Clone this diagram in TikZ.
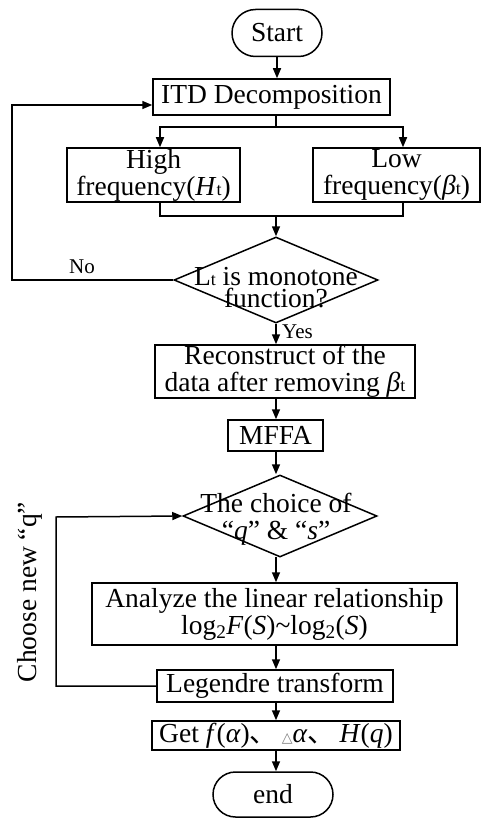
\documentclass[tikz,border=0pt]{standalone}
\usepackage{fontspec}
\setmainfont{Liberation Serif}
\newfontfamily\cjk{Noto Sans CJK SC}
\newfontfamily\djv{DejaVu Sans}
\usetikzlibrary{shapes.geometric,shapes.misc,arrows.meta}
\newcommand{\smt}{{\fontsize{18}{18}\selectfont t}}
\begin{document}
\begin{tikzpicture}[x=1pt,y=-1pt,
  font=\fontsize{27.5}{27}\selectfont,
  ln/.style={line width=1.5pt},
  arr/.style={line width=1.5pt,-{Triangle[length=10pt,width=8pt]}},
  box/.style={draw,line width=1.5pt,inner sep=0pt,align=center},
  stadium/.style={draw,line width=1.5pt,rounded rectangle,inner sep=0pt},
  dia/.style={draw,line width=1.5pt,diamond,inner sep=0pt},
  lbl/.style={inner sep=0pt,font=\fontsize{21}{21}\selectfont}]
\useasboundingbox (0,0) rectangle (483,818);
\fill[white] (0,0) rectangle (483,818);

\node[stadium,minimum width=90pt,minimum height=47pt] (start) at (277,33) {Start};
\node[box,minimum width=237pt,minimum height=36pt] (itd) at (271.5,97) {ITD Decomposition};
\node[box,minimum width=173pt,minimum height=54pt] (high) at (153.5,175) {High\\frequency(\textit{H}\smt)};
\node[box,minimum width=167pt,minimum height=54pt] (low) at (396.5,175) {Low\\frequency(\textit{β}\smt)};
\node[dia,minimum width=204pt,minimum height=86pt] (d1) at (276,280) {};
\node[align=center,inner sep=0pt,font=\fontsize{27.5}{22}\selectfont] (d1t) at (276,288) {L\smt\ is monotone\\function?};
\node[box,minimum width=260pt,minimum height=53pt] (rec) at (285,371.5) {Reconstruct of the\\data after removing \textit{β}\smt};
\node[box,minimum width=95pt,minimum height=31pt] (mffa) at (275.5,435.5) {MFFA};
\node[dia,minimum width=194pt,minimum height=82pt] (d2) at (280,516) {};
\node[align=center,inner sep=0pt] (d2t) at (276,519) {The choice of\\“\textit{q}” \& “\textit{s}”};
\node[box,minimum width=365pt,minimum height=62pt] (an) at (274.5,614) {Analyze the linear relationship\\log\textsubscript{2}\textit{F}(\textit{S})\char`\~log\textsubscript{2}(\textit{S})};
\node[box,minimum width=236pt,minimum height=32pt] (leg) at (275,686) {Legendre transform};
\node[box,minimum width=248pt,minimum height=29pt] (get) at (276,735.5) {Get \textit{f}(\textit{α}){\cjk 、}\,{\djv\fontsize{14}{14}\selectfont\color{gray}△}\textit{α}{\cjk 、}\,\textit{H}(\textit{q})};
\node[stadium,minimum width=120pt,minimum height=45pt] (end) at (273,794.5) {end};

\node[lbl] (no) at (82,267) {No};
\node[lbl,anchor=west] (yes) at (282,332) {Yes};
\node[rotate=90,inner sep=0pt] (choose) at (30,592) {Choose new “q”};

% connectors
\draw[arr] (start.south) -- (start.south |- itd.north);
\coordinate (b1) at (276,127);
\coordinate (hA) at (160,127);
\coordinate (lA) at (403,127);
\draw[ln] (itd.south -| b1) -- (b1);
\draw[arr] (b1) -- (hA) -- (hA |- high.north);
\draw[arr] (b1) -- (lA) -- (lA |- low.north);
\coordinate (hB) at (160,216);
\coordinate (lB) at (403,216);
\coordinate (jm) at (276,216);
\draw[ln] (hB |- high.south) -- (hB) -- (lB) -- (lB |- low.south);
\draw[arr] (jm) -- (d1.north);
\coordinate (nl) at (12,280);
\coordinate (nt) at (12,105);
\draw[arr] (d1.west) -- (nl) -- (nt) -- (nt -| itd.west);
\draw[arr] (d1.south) -- (d1.south |- rec.north);
\coordinate (ax1) at (276,398);
\draw[arr] (ax1) -- (ax1 |- mffa.north);
\coordinate (ax2) at (276,451);
\draw[arr] (ax2) -- (ax2 |- d2.north);
\coordinate (ax3) at (276,557);
\draw[arr] (ax3) -- (ax3 |- an.north);
\coordinate (ax4) at (276,645);
\draw[arr] (ax4) -- (ax4 |- leg.north);
\coordinate (ax5) at (276,702);
\draw[arr] (ax5) -- (ax5 |- get.north);
\coordinate (ax6) at (276,750);
\draw[arr] (ax6) -- (ax6 |- end.north);
\coordinate (ql) at (56,686);
\coordinate (qt) at (56,517);
\draw[arr] (leg.west) -- (ql) -- (qt) -- (d2.west);
\end{tikzpicture}
\end{document}
